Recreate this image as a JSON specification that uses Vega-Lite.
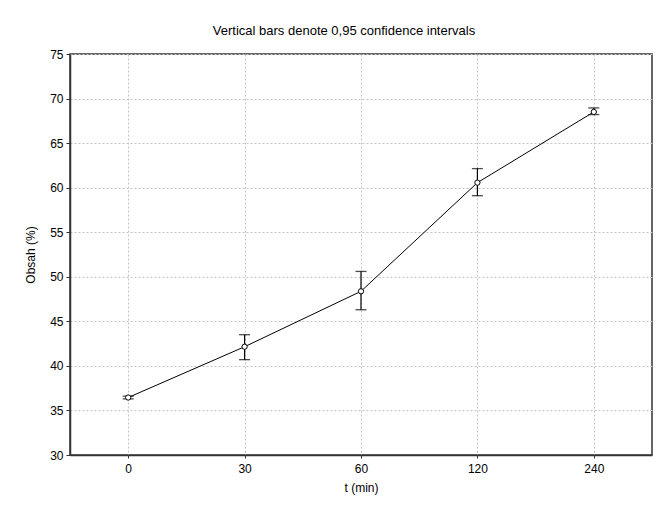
{
  "$schema": "https://vega.github.io/schema/vega-lite/v6.json",
  "width": 582,
  "height": 401,
  "autosize": {"type": "none"},
  "padding": {"left": 70, "top": 54, "right": 10, "bottom": 51},
  "background": "white",
  "title": {
    "text": "Vertical bars denote 0,95 confidence intervals",
    "font": "Liberation Sans",
    "fontSize": 13,
    "fontWeight": "normal",
    "color": "black",
    "anchor": "middle",
    "offset": 10,
    "dx": -17
  },
  "config": {
    "font": "Liberation Sans",
    "view": {"stroke": "#333333", "strokeWidth": 1.5},
    "axis": {
      "labelFont": "Liberation Sans",
      "labelFontSize": 12,
      "labelColor": "black",
      "titleFont": "Liberation Sans",
      "titleFontSize": 12,
      "titleFontWeight": "normal",
      "titleColor": "black",
      "domainColor": "#333333",
      "domainWidth": 1.5,
      "tickColor": "#333333",
      "gridColor": "#c4c4c4",
      "gridDash": [2, 2],
      "gridWidth": 1
    }
  },
  "data": {
    "values": [
      {"t": "0", "mean": 36.45, "lo": 36.3, "hi": 36.6},
      {"t": "30", "mean": 42.15, "lo": 40.7, "hi": 43.5},
      {"t": "60", "mean": 48.37, "lo": 46.3, "hi": 50.6},
      {"t": "120", "mean": 60.56, "lo": 59.1, "hi": 62.14},
      {"t": "240", "mean": 68.5, "lo": 68.2, "hi": 68.95}
    ]
  },
  "encoding": {
    "x": {
      "field": "t",
      "type": "ordinal",
      "sort": ["0", "30", "60", "120", "240"],
      "scale": {"type": "point", "padding": 0.5},
      "axis": {
        "title": "t (min)",
        "labelAngle": 0,
        "grid": true,
        "tickSize": 3,
        "labelPadding": 5,
        "titlePadding": 8
      }
    }
  },
  "layer": [
    {
      "mark": {"type": "line", "color": "black", "strokeWidth": 1},
      "encoding": {
        "y": {
          "field": "mean",
          "type": "quantitative",
          "scale": {"domain": [30, 75], "nice": false, "zero": false},
          "axis": {
            "title": "Obsah (%)",
            "values": [30, 35, 40, 45, 50, 55, 60, 65, 70, 75],
            "tickSize": 4,
            "labelPadding": 3,
            "titlePadding": 12
          }
        }
      }
    },
    {
      "mark": {"type": "rule", "color": "black", "strokeWidth": 1.2},
      "encoding": {
        "y": {"field": "lo", "type": "quantitative"},
        "y2": {"field": "hi"}
      }
    },
    {
      "mark": {"type": "tick", "color": "black", "size": 11, "thickness": 1.3},
      "encoding": {"y": {"field": "lo", "type": "quantitative"}}
    },
    {
      "mark": {"type": "tick", "color": "black", "size": 11, "thickness": 1.3},
      "encoding": {"y": {"field": "hi", "type": "quantitative"}}
    },
    {
      "mark": {"type": "point", "shape": "circle", "filled": true, "fill": "white", "stroke": "black", "strokeWidth": 1, "size": 28, "opacity": 1},
      "encoding": {"y": {"field": "mean", "type": "quantitative"}}
    }
  ]
}
